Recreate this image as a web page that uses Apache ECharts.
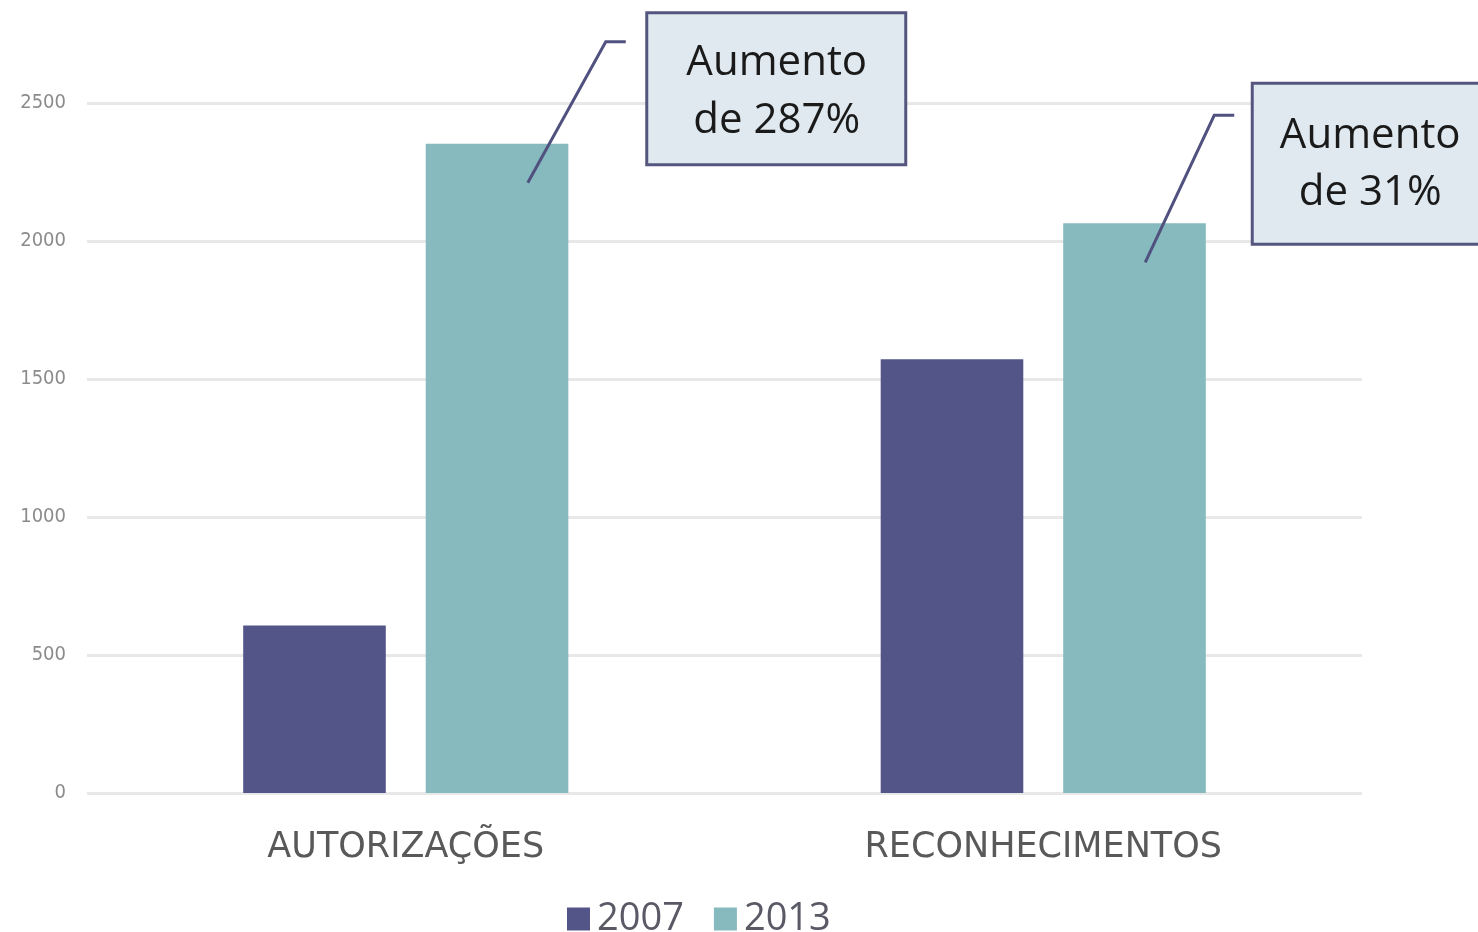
<!DOCTYPE html>
<html>
<head>
<meta charset="utf-8">
<script src="https://cdn.jsdelivr.net/npm/echarts@6/dist/echarts.min.js"></script>
<style>html,body{margin:0;padding:0;background:#fff;}#c{width:1478px;height:932px;}</style>
</head>
<body>
<div id="c"></div>
<script>
var categories = ['AUTORIZAÇÕES', 'RECONHECIMENTOS'];
var seriesNames = ['2007', '2013'];
var values2007 = [607, 1572];
var values2013 = [2352, 2064];
var annotationTexts = ['Aumento\nde 287%', 'Aumento\nde 31%'];

var chart = echarts.init(document.getElementById('c'));
chart.setOption({
  animation: false,
  backgroundColor: '#ffffff',
  grid: {left: 87, right: 116, top: 103, bottom: 139, containLabel: false},
  legend: {
    data: seriesNames,
    left: 562, top: 895,
    itemWidth: 23, itemHeight: 23, itemGap: 30,
    icon: 'rect',
    textStyle: {fontFamily: 'Open Sans', fontSize: 38, color: '#5a5a66', padding: [0,0,0,2]}
  },
  xAxis: {
    type: 'category', data: categories,
    axisLine: {show: false}, axisTick: {show: false},
    axisLabel: {fontFamily: 'DejaVu Sans', fontSize: 35, color: '#595959', margin: 37}
  },
  yAxis: {
    type: 'value', min: 0, max: 2500, interval: 500,
    axisLine: {show: false}, axisTick: {show: false},
    splitLine: {lineStyle: {color: '#e8e8e8', width: 3}},
    axisLabel: {fontFamily: 'Liberation Sans Narrow, DejaVu Sans Condensed, sans-serif', fontSize: 20, color: '#8c8c8c', margin: 21,
      formatter: function(v) { return String(v); }}
  },
  series: [
    {name: '2007', type: 'bar', data: values2007, barGap: '28%', barCategoryGap: '49%', itemStyle: {color: '#535589'}},
    {name: '2013', type: 'bar', data: values2013, itemStyle: {color: '#86babf'}}
  ]
});

// annotation layout, offsets relative to the category centre / bar top
var annos = [
  {cat: 0, val: values2013[0], start: [122, 39], mid: [200, -102], end: [220, -102], box: [241, -131, 259, 152], textX: 130, lines: [-81, -23]},
  {cat: 1, val: values2013[1], start: [102, 39], mid: [171, -108], end: [191, -108], box: [209, -140, 245, 161], textX: 118, lines: [-87, -30]}
];
var g = [];
annos.forEach(function(a, i) {
  var p = chart.convertToPixel({xAxisIndex: 0, yAxisIndex: 0}, [a.cat, a.val]);
  var x = p[0], y = p[1];
  g.push({type: 'polyline', z: 10, shape: {points: [[x + a.start[0], y + a.start[1]], [x + a.mid[0], y + a.mid[1]], [x + a.end[0], y + a.end[1]]]}, style: {stroke: '#50517f', lineWidth: 3, fill: null}});
  var bx = x + a.box[0], by = y + a.box[1];
  g.push({type: 'rect', z: 10, shape: {x: bx, y: by, width: a.box[2], height: a.box[3]}, style: {fill: '#dfe9ef', stroke: '#55567f', lineWidth: 3}});
  var parts = annotationTexts[i].split('\n');
  parts.forEach(function(t, k) {
    g.push({type: 'text', z: 11, x: bx + a.textX, y: y + a.lines[k], style: {text: t, fontFamily: 'Open Sans', fontSize: 42, fill: '#1a1a1a', align: 'center', verticalAlign: 'middle'}});
  });
});
chart.setOption({graphic: g});
</script>
</body>
</html>
